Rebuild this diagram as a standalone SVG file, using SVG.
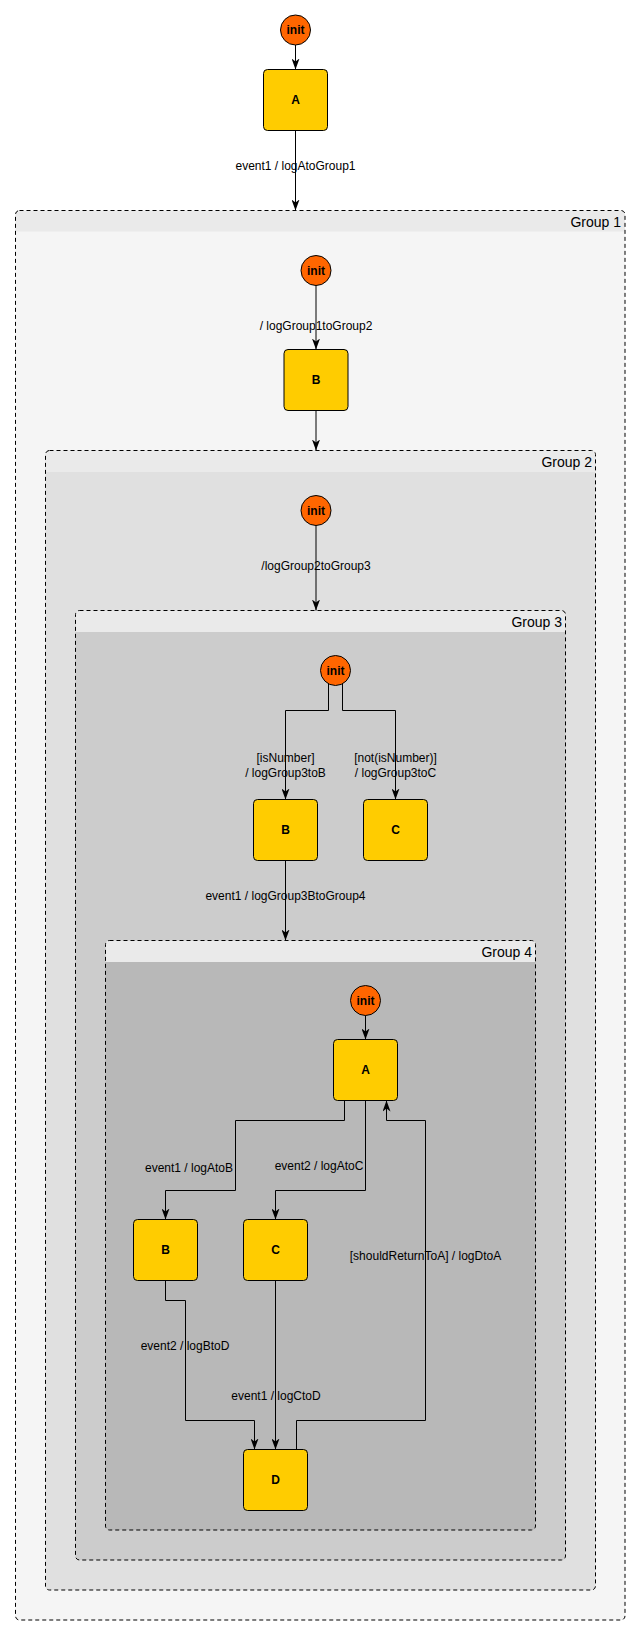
<svg xmlns="http://www.w3.org/2000/svg" width="641" height="1635" viewBox="0 0 641 1635">
<defs>
<marker id="arr" viewBox="0 0 11 8" refX="11" refY="4" markerWidth="11" markerHeight="8" markerUnits="userSpaceOnUse" orient="auto">
<path d="M11,4 L0,0 L3,4 L0,8 Z" fill="#000"/>
</marker>
<style>
.outline{fill:none;stroke:#000;stroke-width:1;stroke-dasharray:4 3}
.hdr{fill:#eaeaea}
.st rect{fill:#ffcc00;stroke:#000;stroke-width:1}
.ini circle{fill:#ff6600;stroke:#000;stroke-width:1}
.nl{font-family:"Liberation Sans",Arial,sans-serif;font-size:12px;font-weight:bold;text-anchor:middle;fill:#000}
.el{font-family:"Liberation Sans",Arial,sans-serif;font-size:12px;text-anchor:middle;fill:#000}
.gl{font-family:"Liberation Sans",Arial,sans-serif;font-size:14px;text-anchor:end;fill:#000}
.edge{fill:none;stroke:#000;stroke-width:1;marker-end:url(#arr)}
</style>
</defs>
<rect x="0" y="0" width="641" height="1635" fill="#fff"/>

<!-- Group 1 -->
<g id="group1">
<rect x="15.5" y="210.5" width="609.5" height="1409.5" rx="4" fill="#f5f5f5"/>
<path class="hdr" d="M15.5,231.5 V214.5 Q15.5,210.5 19.5,210.5 H621 Q625,210.5 625,214.5 V231.5 Z"/>
<rect class="outline" x="15.5" y="210.5" width="609.5" height="1409.5" rx="4"/>
<text class="gl" x="621" y="226.5">Group 1</text>
</g>

<!-- Group 2 -->
<g id="group2">
<rect x="45.5" y="450.5" width="550" height="1139.5" rx="4" fill="#e0e0e0"/>
<path class="hdr" d="M45.5,472 V454.5 Q45.5,450.5 49.5,450.5 H591.5 Q595.5,450.5 595.5,454.5 V472 Z"/>
<rect class="outline" x="45.5" y="450.5" width="550" height="1139.5" rx="4"/>
<text class="gl" x="592" y="466.5">Group 2</text>
</g>

<!-- Group 3 -->
<g id="group3">
<rect x="75.5" y="610.5" width="490" height="949.5" rx="4" fill="#cccccc"/>
<path class="hdr" d="M75.5,632 V614.5 Q75.5,610.5 79.5,610.5 H561.5 Q565.5,610.5 565.5,614.5 V632 Z"/>
<rect class="outline" x="75.5" y="610.5" width="490" height="949.5" rx="4"/>
<text class="gl" x="562" y="626.5">Group 3</text>
</g>

<!-- Group 4 -->
<g id="group4">
<rect x="105.5" y="940.5" width="430" height="589.5" rx="4" fill="#b8b8b8"/>
<path class="hdr" d="M105.5,962 V944.5 Q105.5,940.5 109.5,940.5 H531.5 Q535.5,940.5 535.5,944.5 V962 Z"/>
<rect class="outline" x="105.5" y="940.5" width="430" height="589.5" rx="4"/>
<text class="gl" x="532" y="956.5">Group 4</text>
</g>

<!-- Top level -->
<g id="init0" class="ini"><circle cx="295.5" cy="30" r="15"/><text class="nl" x="295.5" y="34">init</text></g>
<g id="stateA0" class="st"><rect x="263.5" y="69.5" width="64" height="61" rx="4"/><text class="nl" x="295.5" y="104">A</text></g>

<!-- Group 1 contents -->
<g id="init1" class="ini"><circle cx="316" cy="270.5" r="15"/><text class="nl" x="316" y="274.5">init</text></g>
<g id="stateB1" class="st"><rect x="284" y="349.5" width="64" height="61" rx="4"/><text class="nl" x="316" y="384">B</text></g>

<!-- Group 2 contents -->
<g id="init2" class="ini"><circle cx="316" cy="510.5" r="15"/><text class="nl" x="316" y="514.5">init</text></g>

<!-- Group 3 contents -->
<g id="init3" class="ini"><circle cx="335.5" cy="670.5" r="15"/><text class="nl" x="335.5" y="674.5">init</text></g>
<g id="stateB3" class="st"><rect x="253.5" y="799.5" width="64" height="61" rx="4"/><text class="nl" x="285.5" y="834">B</text></g>
<g id="stateC3" class="st"><rect x="363.5" y="799.5" width="64" height="61" rx="4"/><text class="nl" x="395.5" y="834">C</text></g>

<!-- Group 4 contents -->
<g id="init4" class="ini"><circle cx="365.5" cy="1000.5" r="15"/><text class="nl" x="365.5" y="1004.5">init</text></g>
<g id="stateA4" class="st"><rect x="333.5" y="1039.5" width="64" height="61" rx="4"/><text class="nl" x="365.5" y="1074">A</text></g>
<g id="stateB4" class="st"><rect x="133.5" y="1219.5" width="64" height="61" rx="4"/><text class="nl" x="165.5" y="1254">B</text></g>
<g id="stateC4" class="st"><rect x="243.5" y="1219.5" width="64" height="61" rx="4"/><text class="nl" x="275.5" y="1254">C</text></g>
<g id="stateD4" class="st"><rect x="243.5" y="1449.5" width="64" height="61" rx="4"/><text class="nl" x="275.5" y="1484">D</text></g>

<!-- Connectors -->
<g id="connectors">
<path class="edge" d="M295.5,45 V69.5"/>
<path class="edge" d="M295.5,130.5 V210.5"/>
<text class="el" x="295.5" y="170">event1 / logAtoGroup1</text>

<path class="edge" d="M316,285.5 V349.5"/>
<text class="el" x="316" y="330">/ logGroup1toGroup2</text>
<path class="edge" d="M316,410.5 V450.5"/>

<path class="edge" d="M316,525.5 V610.5"/>
<text class="el" x="316" y="569.5">/logGroup2toGroup3</text>

<path class="edge" d="M328.5,684 V710.5 H285.5 V799.5"/>
<text class="el" x="285.5" y="761.5">[isNumber]</text>
<text class="el" x="285.5" y="776.5">/ logGroup3toB</text>
<path class="edge" d="M342.5,684 V710.5 H395.5 V799.5"/>
<text class="el" x="395.5" y="761.5">[not(isNumber)]</text>
<text class="el" x="395.5" y="776.5">/ logGroup3toC</text>

<path class="edge" d="M285.5,860.5 V940.5"/>
<text class="el" x="285.5" y="899.5">event1 / logGroup3BtoGroup4</text>

<path class="edge" d="M365.5,1015.5 V1039.5"/>
<path class="edge" d="M344.5,1100.5 V1120.5 H235.5 V1190.5 H165.5 V1219.5"/>
<text class="el" x="189" y="1171.5">event1 / logAtoB</text>
<path class="edge" d="M365.5,1100.5 V1190.5 H275.5 V1219.5"/>
<text class="el" x="319" y="1170">event2 / logAtoC</text>
<path class="edge" d="M165.5,1280.5 V1300.5 H185.5 V1420.5 H254.5 V1449.5"/>
<text class="el" x="185" y="1349.5">event2 / logBtoD</text>
<path class="edge" d="M275.5,1280.5 V1449.5"/>
<text class="el" x="276" y="1400">event1 / logCtoD</text>
<path class="edge" d="M296.5,1449.5 V1420.5 H425.5 V1120.5 H386.5 V1100.5"/>
<text class="el" x="425.5" y="1259.5">[shouldReturnToA] / logDtoA</text>
</g>
</svg>
